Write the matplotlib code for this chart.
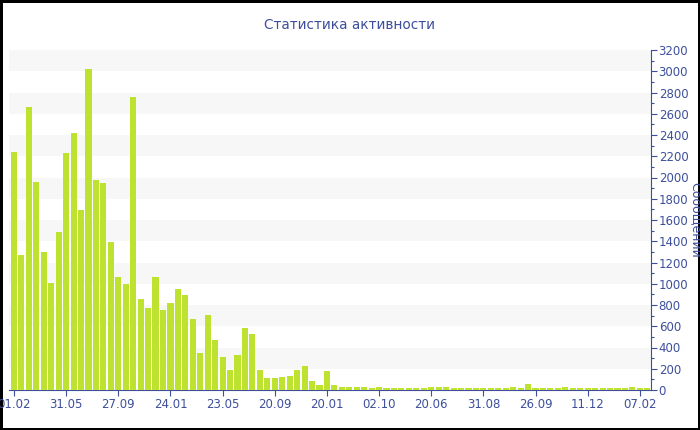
#!/usr/bin/env python3
# coding: utf-8

import numpy as np
import matplotlib
matplotlib.use('Agg')
from matplotlib import pyplot as plt
from matplotlib.ticker import MultipleLocator

# messages per period
messages = [2240, 1270, 2660, 1960, 1300, 1010, 1490, 2230, 2420, 1690,
            3020, 1980, 1950, 1390, 1066, 997, 2760, 853, 775, 1066,
            750, 816, 950, 891, 668, 348, 706, 473, 307, 191,
            329, 583, 530, 188, 113, 113, 119, 132, 185, 226,
            85, 47, 176, 50, 31, 28, 28, 24, 22, 24,
            20, 22, 20, 20, 20, 20, 25, 24, 28, 18,
            22, 20, 18, 18, 19, 19, 22, 26, 20, 52,
            20, 18, 18, 19, 29, 19, 19, 19, 20, 22,
            19, 18, 18, 26, 19, 19]
tick_labels = ['01.02', '31.05', '27.09', '24.01', '23.05', '20.09', '20.01',
               '02.10', '20.06', '31.08', '26.09', '11.12', '07.02']

text_color = '#3d4f9c'
bar_color = '#bde22f'

fig = plt.figure(figsize=(7, 4.3), dpi=100)
fig.patch.set_edgecolor('black')
fig.patch.set_linewidth(2.5)
ax = fig.add_axes([9.3 / 700, 40 / 430, (651 - 9.3) / 700, 340 / 430])

x = np.arange(len(messages))
ax.bar(x, messages, width=0.82, color=bar_color, linewidth=0, zorder=3)

# light horizontal bands
for lo in range(200, 3200, 400):
    ax.axhspan(lo, lo + 200, color='#f7f7f7', zorder=0, lw=0)

ax.set_xlim(-0.63, 85.5)
ax.set_ylim(0, 3200)

ax.yaxis.tick_right()
ax.yaxis.set_label_position('right')
ax.yaxis.set_major_locator(MultipleLocator(200))
ax.yaxis.set_minor_locator(MultipleLocator(100))
ax.set_ylabel('Сообщений', rotation=270, color=text_color, fontsize=9, va='center')
ax.yaxis.set_label_coords((695 - 9.3) / 641.7, 0.5)

ax.set_xticks(x[::7][:len(tick_labels)])
ax.set_xticklabels(tick_labels)

for side in ['top', 'left']:
    ax.spines[side].set_visible(False)
ax.spines['right'].set_color(text_color)
ax.spines['bottom'].set_color(text_color)

ax.tick_params(axis='both', colors=text_color, labelsize=8.5, length=4, width=0.8)
ax.tick_params(axis='y', which='minor', colors=text_color, length=2.5, width=0.8)
ax.tick_params(axis='y', pad=1.5)
ax.tick_params(axis='x', pad=2)

fig.text(0.5, 1 - 25 / 430, 'Статистика активности', ha='center', va='center',
         color=text_color, fontsize=9.8)

plt.savefig('out.png', dpi=100, edgecolor=fig.get_edgecolor())
